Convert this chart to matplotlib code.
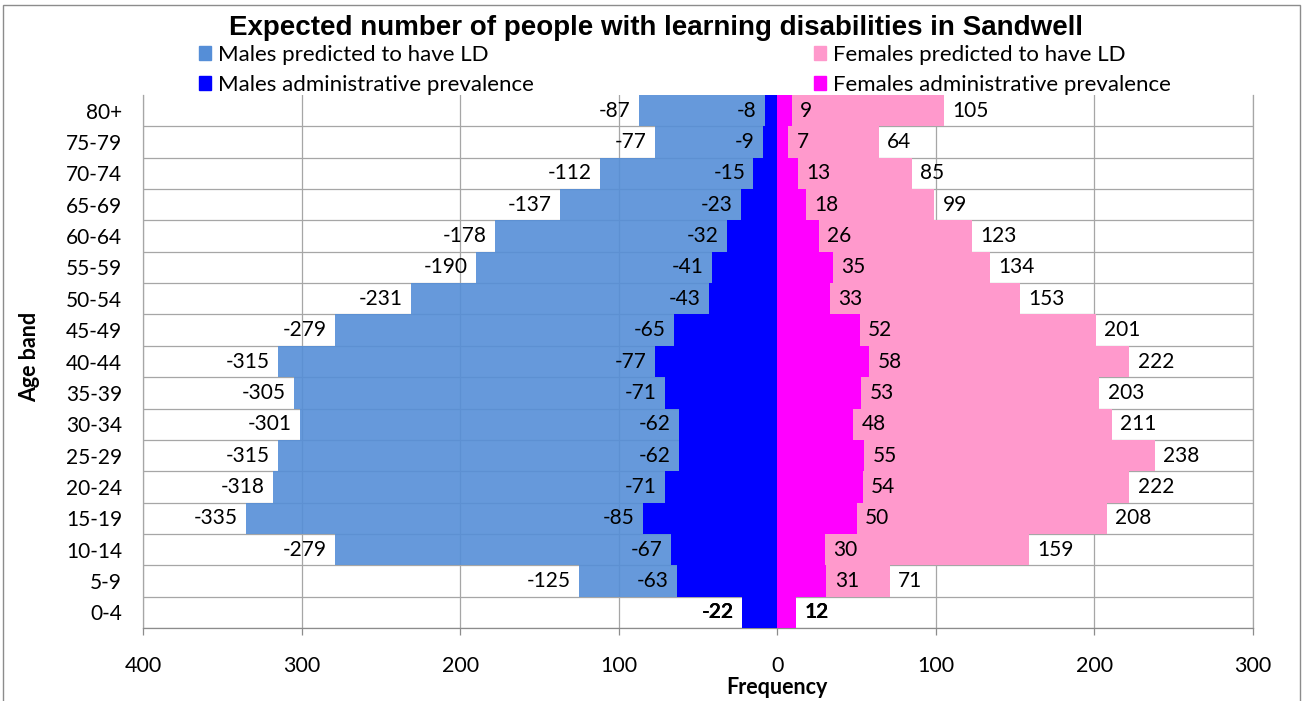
import matplotlib
matplotlib.use("Agg")
import matplotlib.pyplot as plt
from matplotlib.patches import Patch, Rectangle
import numpy as np

plt.rcParams['font.family'] = ['Lato', 'DejaVu Sans']

age_bands = ["0-4", "5-9", "10-14", "15-19", "20-24", "25-29", "30-34", "35-39",
             "40-44", "45-49", "50-54", "55-59", "60-64", "65-69", "70-74", "75-79", "80+"]
males_predicted = [22, 125, 279, 335, 318, 315, 301, 305, 315, 279, 231, 190, 178, 137, 112, 77, 87]
males_admin = [22, 63, 67, 85, 71, 62, 62, 71, 77, 65, 43, 41, 32, 23, 15, 9, 8]
females_predicted = [12, 71, 159, 208, 222, 238, 211, 203, 222, 201, 153, 134, 123, 99, 85, 64, 105]
females_admin = [12, 31, 30, 50, 54, 55, 48, 53, 58, 52, 33, 35, 26, 18, 13, 7, 9]
x_ticks = [-400, -300, -200, -100, 0, 100, 200, 300]

W, H = 1304, 701
fig = plt.figure(figsize=(W / 100, H / 100), dpi=100)
fig.patch.set_facecolor('white')

# outer chart border
fig.patches.append(Rectangle((3 / W, -0.05), (1300 - 3) / W, 1.05 - 5 / H,
                             transform=fig.transFigure, fill=False,
                             edgecolor='#8C8C8C', lw=1.0))

ax = fig.add_axes([143 / W, 1 - 628 / H, (1253 - 143) / W, (628 - 95) / H])

y = np.arange(len(age_bands))
mp = np.array(males_predicted)
ma = np.array(males_admin)
fp = np.array(females_predicted)
fa = np.array(females_admin)

c_mp, c_ma, c_fp, c_fa = '#558ED7', '#0000FF', '#FF99CC', '#FF00FF'

ax.barh(y, -mp, height=1.0, color=c_mp, alpha=0.9, zorder=2, lw=0)
ax.barh(y, -ma, height=1.0, color=c_ma, zorder=3, lw=0)
ax.barh(y, fp, height=1.0, color=c_fp, zorder=2, lw=0)
ax.barh(y, fa, height=1.0, color=c_fa, zorder=3, lw=0)

fs = 15
for i in range(len(y)):
    same_m = mp[i] == ma[i]
    same_f = fp[i] == fa[i]
    ax.annotate(f"-{mp[i]}", xy=(-mp[i], i), xytext=(-6, 0), textcoords='offset points',
                ha='right', va='center', fontsize=fs, zorder=5,
                fontweight='bold' if same_m else 'normal')
    ax.annotate(f"-{ma[i]}", xy=(-ma[i], i), xytext=(-6, 0), textcoords='offset points',
                ha='right', va='center', fontsize=fs, zorder=5,
                fontweight='bold' if same_m else 'normal')
    ax.annotate(f"{fp[i]}", xy=(fp[i], i), xytext=(6, 0), textcoords='offset points',
                ha='left', va='center', fontsize=fs, zorder=5,
                fontweight='bold' if same_f else 'normal')
    ax.annotate(f"{fa[i]}", xy=(fa[i], i), xytext=(6, 0), textcoords='offset points',
                ha='left', va='center', fontsize=fs, zorder=5,
                fontweight='bold' if same_f else 'normal')

ax.set_xlim(-400, 300)
ax.set_ylim(-0.5, len(y) - 0.5)
ax.set_xticks(x_ticks)
ax.set_xticklabels([str(abs(v)) for v in x_ticks], fontsize=15.5)
ax.set_yticks(y)
ax.set_yticklabels(age_bands, fontsize=15)
ax.set_yticks(np.arange(-0.5, len(y) - 1, 1.0), minor=True)

grid_c = '#A6A6A6'
ax.set_axisbelow(True)
ax.xaxis.grid(True, which='major', color=grid_c, lw=0.9)
ax.yaxis.grid(True, which='minor', color=grid_c, lw=0.9)
ax.yaxis.grid(False, which='major')

ax.tick_params(axis='y', which='both', length=0, pad=15)
ax.tick_params(axis='x', which='major', length=5, color='#8C8C8C', width=0.9, pad=15)

ax.spines['top'].set_visible(False)
for s in ['left', 'right']:
    ax.spines[s].set_color(grid_c)
    ax.spines[s].set_linewidth(0.9)
ax.spines['bottom'].set_color('#8C8C8C')
ax.spines['bottom'].set_linewidth(0.9)

fig.text(656 / W, 1 - 28 / H, "Expected number of people with learning disabilities in Sandwell",
         ha='center', va='center', fontsize=20, fontweight='bold',
         family=['Liberation Sans', 'DejaVu Sans'])
fig.text(777 / W, 1 - 688 / H, "Frequency", ha='center', va='center',
         fontsize=15.5, fontweight='bold')
fig.text(30 / W, 1 - 357 / H, "Age band", ha='center', va='center',
         fontsize=15.5, fontweight='bold', rotation=90)

leg_kw = dict(loc='upper left', frameon=False, fontsize=16, handlelength=0.55,
              handleheight=0.55, handletextpad=0.3, labelspacing=0.45,
              borderpad=0, borderaxespad=0)
fig.legend(handles=[Patch(color=c_mp, label="Males predicted to have LD"),
                    Patch(color=c_ma, label="Males administrative prevalence")],
           bbox_to_anchor=(199 / W, 1 - 45 / H), **leg_kw)
fig.legend(handles=[Patch(color=c_fp, label="Females predicted to have LD"),
                    Patch(color=c_fa, label="Females administrative prevalence")],
           bbox_to_anchor=(814 / W, 1 - 45 / H), **leg_kw)

fig.savefig("out.png", dpi=100, facecolor='white')
